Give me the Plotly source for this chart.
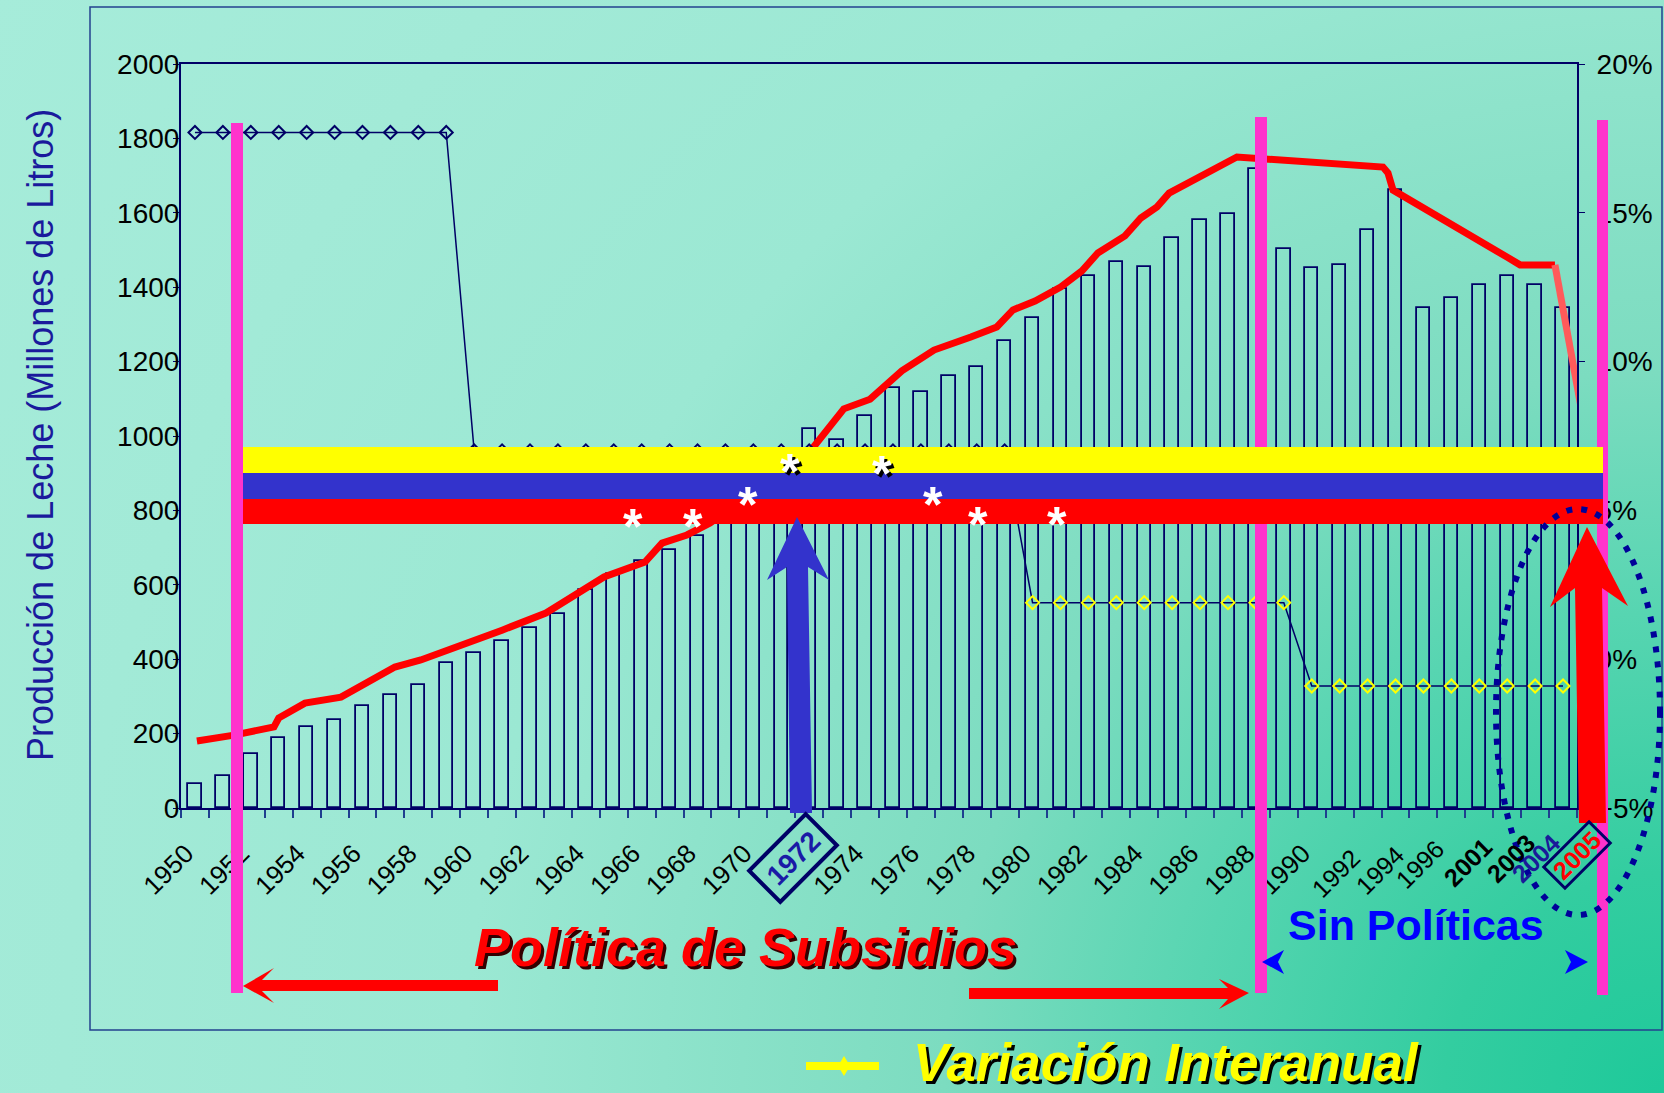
import base64
import plotly.graph_objects as go

# ---- datos ----
anios = list(range(1950, 2000))
produccion = [65, 86, 145, 187, 217, 237, 275, 304, 331, 390,
              418, 448, 484, 521, 585, 628, 664, 693, 730, 766,
              830, 910, 1020, 988, 1055, 1129, 1119, 1162, 1185, 1256,
              1316, 1396, 1430, 1467, 1454, 1532, 1581, 1596, 1718, 1503,
              1452, 1459, 1554, 1661, 1343, 1372, 1407, 1430, 1407, 1343]
variacion = [17.7, 17.7, 17.7, 17.7, 17.7, 17.7, 17.7, 17.7, 17.7, 17.7,
             7.0, 7.0, 7.0, 7.0, 7.0, 7.0, 7.0, 7.0, 7.0, 7.0,
             7.0, 7.0, 7.0, 7.0, 7.0, 7.0, 7.0, 7.0, 7.0, 7.0,
             1.9, 1.9, 1.9, 1.9, 1.9, 1.9, 1.9, 1.9, 1.9, 1.9,
             -0.9, -0.9, -0.9, -0.9, -0.9, -0.9, -0.9, -0.9, -0.9, -0.9]

# tendencia dibujada a mano (posicion en categorias, millones de litros)
tendencia_x = [0.07, 1.40, 2.83, 3.0, 3.94, 5.23, 7.16, 8.09, 11.0, 12.57,
               14.65, 16.12, 16.73, 17.62, 18.45, 22.1, 23.24, 24.18, 25.32, 26.47,
               27.79, 28.72, 29.3, 30.09, 31.02, 31.77, 32.34, 33.31, 33.88, 34.46,
               34.89, 37.32, 42.55, 42.73, 42.91, 44.59, 46.99, 47.46, 48.71]
tendencia_y = [180, 196, 218, 242, 282, 298, 379, 398, 478, 524,
               621, 661, 712, 734, 766, 965, 1073, 1099, 1175, 1231,
               1266, 1293, 1339, 1363, 1401, 1444, 1492, 1538, 1586, 1616,
               1653, 1750, 1723, 1707, 1661, 1589, 1481, 1460, 1460]
caida_x = [48.71, 49.93]
caida_y = [1460, 960]

# etiquetas del eje (1972 va en su recuadro)
ticks_eje = [i for i in range(0, 41, 2) if i != 22]
etiquetas_eje = [str(1950 + i) for i in ticks_eje]
etiquetas_extra = ["1992", "1994", "1996", "2001", "2003", "2004", "2005"]

NAVY = "#000066"
PINK = "#ff33cc"

# area del grafico en pixeles
L, R, T, B = 181, 1577, 64, 808


def px(x):
    return (x - L) / (R - L)


def py(y):
    return (B - y) / (B - T)


def poly(pts):
    return "M " + " L ".join(f"{px(x):.5f},{py(y):.5f}" for x, y in pts) + " Z"


# fondo degradado
svg = """<svg xmlns="http://www.w3.org/2000/svg" width="1664" height="1093" viewBox="0 0 1664 1093" preserveAspectRatio="none">
<defs><radialGradient id="g" cx="1664" cy="1093" r="2000" gradientUnits="userSpaceOnUse">
<stop offset="0" stop-color="#1ec99a"/>
<stop offset="0.11" stop-color="#33cda0"/>
<stop offset="0.24" stop-color="#57d5b1"/>
<stop offset="0.36" stop-color="#7cdcc0"/>
<stop offset="0.5" stop-color="#8ee3cb"/>
<stop offset="0.6" stop-color="#9be8d3"/>
<stop offset="0.8" stop-color="#a2ead7"/>
<stop offset="1" stop-color="#a6ecda"/>
</radialGradient></defs><rect width="1664" height="1093" fill="url(#g)"/></svg>"""
fondo = "data:image/svg+xml;base64," + base64.b64encode(svg.encode()).decode()

idx = list(range(len(anios)))
colores_rombo = [NAVY if i < 30 else "#ffff00" for i in idx]

fig = go.Figure()
fig.add_bar(x=idx, y=produccion, width=0.48,
            marker=dict(color="rgba(0,0,0,0)", line=dict(color=NAVY, width=1.8)),
            showlegend=False)
fig.add_scatter(x=idx, y=variacion, yaxis="y2", mode="lines+markers",
                line=dict(color=NAVY, width=1.5),
                marker=dict(symbol="diamond-open", size=10, color=colores_rombo, line=dict(width=2)),
                showlegend=False)
fig.add_scatter(x=tendencia_x, y=tendencia_y, mode="lines",
                line=dict(color="#ff0000", width=7), showlegend=False)
fig.add_scatter(x=caida_x, y=caida_y, mode="lines",
                line=dict(color="#ff5a5a", width=7), showlegend=False)

shapes = [dict(type="rect", xref="paper", yref="paper", x0=px(90), x1=px(1662), y0=py(1030), y1=py(7),
               line=dict(color="#23418f", width=1.5), fillcolor="rgba(0,0,0,0)")]


def rect(x0, y0, x1, y1, color):
    shapes.append(dict(type="rect", xref="paper", yref="paper", x0=px(x0), x1=px(x1),
                       y0=py(y1), y1=py(y0), fillcolor=color, line=dict(width=0)))


def path(pts, color):
    shapes.append(dict(type="path", xref="paper", yref="paper", path=poly(pts),
                       fillcolor=color, line=dict(width=0)))


# lineas rosadas de periodo
rect(231, 123, 243, 993, PINK)
rect(1255, 117, 1267, 993, PINK)
rect(1597, 120, 1608, 995, PINK)

# bandera
rect(243, 447, 1603, 473, "#ffff00")
rect(243, 473, 1603, 499, "#3333cc")
rect(243, 499, 1603, 524, "#ff0000")

# flechas
path([(790, 813), (812, 813), (808, 567), (829, 580), (797, 517), (767, 580), (787, 567)], "#3333cc")
path([(1579, 823), (1606, 823), (1602, 588), (1628, 606), (1587, 527), (1550, 607), (1575, 588)], "#ff0000")
path([(498, 980), (498, 991), (262, 991), (274, 1003), (243, 986), (274, 968), (262, 980)], "#ff0000")
path([(969, 988), (969, 999), (1228, 999), (1219, 1009), (1249, 993), (1219, 979), (1228, 988)], "#ff0000")
path([(1262, 962), (1284, 950), (1278, 962), (1284, 974)], "#0000ff")
path([(1588, 962), (1565, 950), (1571, 962), (1565, 974)], "#0000ff")

# cajas rotadas de 1972 y 2005
for cx, cy, hl, hs, w in [(793, 858, 40, 22, 4), (1577, 855, 32, 15, 3)]:
    a, b = hl * 0.7071, hs * 0.7071
    pts = [(cx + a - b, cy - a - b), (cx + a + b, cy - a + b),
           (cx - a + b, cy + a + b), (cx - a - b, cy + a - b)]
    shapes.append(dict(type="path", xref="paper", yref="paper", path=poly(pts),
                       fillcolor="rgba(0,0,0,0)", line=dict(color=NAVY, width=w)))

# leyenda manual
shapes.append(dict(type="line", xref="paper", yref="paper", x0=px(806), x1=px(879), y0=py(1066), y1=py(1066),
                   line=dict(color="#ffff00", width=8)))
path([(844, 1056), (850, 1066), (844, 1076), (838, 1066)], "#ffff00")

# elipse punteada
shapes.append(dict(type="circle", xref="paper", yref="paper", x0=px(1496), x1=px(1660), y0=py(915), y1=py(509),
                   line=dict(color="#000099", width=6, dash="6px,9px")))

ann = []


def texto(t, x, y, size, color, angle=0, weight="normal", style="normal", family="Liberation Sans", shadow=None, yshift=0):
    f = dict(family=family, size=size, color=color, weight=weight, style=style)
    if shadow:
        f["shadow"] = shadow
    ann.append(dict(text=t, x=px(x), y=py(y), xref="paper", yref="paper", showarrow=False,
                    textangle=angle, font=f, xanchor="center", yanchor="middle", yshift=yshift))


texto("Producción de Leche (Millones de Litros)", 40, 435, 36, "#1a1a9c", angle=-90)
texto("Política de Subsidios", 745, 947, 54, "#ff0000", weight="bold", style="italic",
      shadow="3px 3px 0px #330000")
texto("Sin Políticas", 1416, 925, 43, "#0000ff", weight="bold")
texto("Variación Interanual", 1166, 1062, 53, "#ffff00", weight="bold", style="italic",
      shadow="3px 3px 0px #000000")

# estrellas
for x, y, sombra in [(633, 515, False), (693, 515, False), (748, 493, False), (790, 460, True),
                     (882, 462, True), (933, 493, False), (978, 513, False), (1057, 513, False)]:
    texto("*", x, y, 50, "#ffffff", weight="bold", shadow="3px 3px 0px #000000" if sombra else None, yshift=-12)

# etiquetas de anos agregadas
pos_extra = [(1336, 873), (1380, 870), (1420, 864), (1468, 862), (1511, 858), (1536, 858), (1577, 855)]
estilos = [("#000000", "normal"), ("#000000", "normal"), ("#000000", "normal"), ("#000000", "bold"),
           ("#000000", "bold"), ("#1a1a99", "bold"), ("#ff0000", "bold")]
for t, (x, y), (c, w) in zip(etiquetas_extra, pos_extra, estilos):
    texto(t, x, y, 25, c, angle=-45, weight=w)
texto("1972", 793, 858, 28, "#1a1aa6", angle=-45, weight="bold")

fig.update_layout(
    width=1664, height=1093,
    margin=dict(l=L, r=1664 - R, t=T, b=1093 - B),
    paper_bgcolor="#a6ecda", plot_bgcolor="rgba(0,0,0,0)",
    images=[dict(source=fondo, xref="paper", yref="paper", x=px(0), y=py(0),
                 sizex=1664 / (R - L), sizey=1093 / (B - T), xanchor="left", yanchor="top",
                 sizing="stretch", layer="below")],
    shapes=shapes, annotations=ann, bargap=0,
    xaxis=dict(range=[-0.5, 49.5], tickmode="array", tickvals=ticks_eje, ticktext=etiquetas_eje,
               tickangle=-45, ticks="", ticklabelstandoff=18, ticklabelshift=-9,
               tickfont=dict(family="Liberation Sans", size=26, color="#000000"),
               showline=True, linecolor=NAVY, linewidth=2, mirror=True, showgrid=False, zeroline=False,
               minor=dict(tickmode="array", tickvals=[k - 0.5 for k in range(51)], ticks="outside",
                          ticklen=8, tickwidth=1.5, tickcolor="#1f3f8f")),
    yaxis=dict(range=[0, 2000], dtick=200, tick0=0, ticks="outside", ticklen=6, tickcolor=NAVY,
               ticklabelstandoff=-12,
               tickfont=dict(family="Liberation Sans", size=28, color="#000000"),
               showline=True, linecolor=NAVY, linewidth=2, showgrid=False, zeroline=False),
    yaxis2=dict(range=[-5, 20], dtick=5, tick0=0, overlaying="y", side="right", ticksuffix="%",
                ticks="outside", ticklen=6, tickcolor=NAVY, ticklabelstandoff=6,
                tickfont=dict(family="Liberation Sans", size=28, color="#000000"),
                showline=True, linecolor=NAVY, linewidth=2, showgrid=False, zeroline=False),
)

fig.write_html("out.html", config={"displayModeBar": False},
               post_script="document.body.style.margin='0';document.body.style.overflow='hidden';")
